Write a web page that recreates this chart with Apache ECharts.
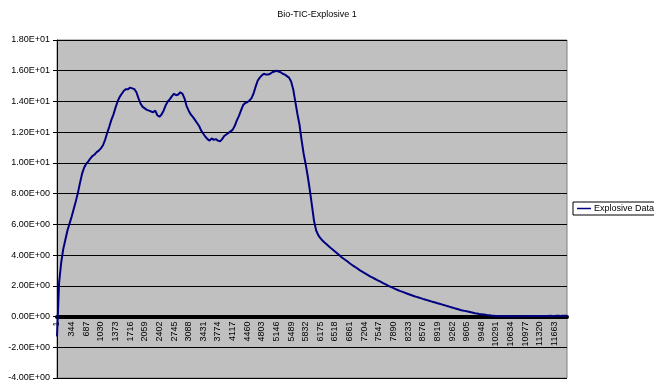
<!DOCTYPE html>
<html>
<head>
<meta charset="utf-8">
<title>Bio-TIC-Explosive 1</title>
<script src="https://cdn.jsdelivr.net/npm/echarts@6/dist/echarts.min.js"></script>
<style>
  html, body { margin: 0; padding: 0; background: #ffffff; }
  #chart { width: 654px; height: 381px; }
</style>
</head>
<body>
<div id="chart"></div>
<script>
// Scan numbers: one sample every 49 scans, starting at scan 1
const scanStart = 1;
const scanStep = 49;

// Total ion current for the explosive sample
const explosiveData = [
  -1.3, 2.2, 3.5, 4.4, 5.0, 5.6, 6.05, 6.5, 7.0, 7.5,
  8.05, 8.7, 9.3, 9.7, 9.95, 10.1, 10.3, 10.45, 10.55, 10.7,
  10.8, 10.95, 11.15, 11.5, 11.95, 12.35, 12.8, 13.15, 13.6, 14.0,
  14.3, 14.5, 14.7, 14.8, 14.8, 14.9, 14.85, 14.8, 14.6, 14.2,
  13.85, 13.65, 13.55, 13.45, 13.4, 13.35, 13.3, 13.4, 13.1, 13.0,
  13.15, 13.4, 13.75, 14.0, 14.15, 14.35, 14.5, 14.4, 14.45, 14.6,
  14.5, 14.2, 13.7, 13.4, 13.15, 13.0, 12.8, 12.6, 12.4, 12.1,
  11.9, 11.7, 11.55, 11.45, 11.6, 11.5, 11.55, 11.45, 11.4, 11.55,
  11.75, 11.85, 11.95, 12.05, 12.15, 12.4, 12.75, 13.05, 13.4, 13.75,
  13.9, 13.95, 14.05, 14.2, 14.5, 14.95, 15.35, 15.55, 15.7, 15.8,
  15.75, 15.75, 15.8, 15.9, 15.95, 16.0, 15.95, 15.9, 15.8, 15.75,
  15.65, 15.55, 15.3, 14.8, 14.0, 13.2, 12.5, 11.5, 10.6, 9.9,
  9.1, 8.2, 7.2, 6.2, 5.6, 5.3, 5.1, 4.95, 4.82, 4.7,
  4.58, 4.46, 4.35, 4.23, 4.12, 4.0, 3.88, 3.78, 3.68, 3.58,
  3.47, 3.37, 3.28, 3.19, 3.1, 3.0, 2.92, 2.84, 2.76, 2.68,
  2.6, 2.53, 2.46, 2.39, 2.32, 2.25, 2.18, 2.11, 2.04, 1.97,
  1.91, 1.85, 1.79, 1.73, 1.67, 1.62, 1.57, 1.52, 1.47, 1.42,
  1.37, 1.32, 1.28, 1.24, 1.2, 1.15, 1.11, 1.07, 1.03, 0.99,
  0.95, 0.91, 0.87, 0.83, 0.79, 0.75, 0.71, 0.67, 0.63, 0.59,
  0.55, 0.51, 0.47, 0.43, 0.4, 0.37, 0.34, 0.31, 0.28, 0.25,
  0.22, 0.2, 0.17, 0.15, 0.13, 0.11, 0.09, 0.08, 0.06, 0.05,
  0.04, 0.03, 0.03, 0.02, 0.03, 0.02, 0.02, 0.03, 0.02, 0.01,
  0.02, 0.03, 0.02, 0.02, 0.03, 0.04, 0.03, 0.02, 0.03, 0.03,
  0.04, 0.03, 0.03, 0.04, 0.03, 0.04, 0.05, 0.04, 0.04, 0.05,
  0.05, 0.04, 0.05, 0.06, 0.05
];

const scans = explosiveData.map((_, i) => String(scanStart + i * scanStep));

// Y axis range and tick spacing
const yMin = -4;
const yMax = 18;
const yStep = 2;

// Plot box in pixels
const plotTop = 40;
const plotBottom = 3;
const plotHeight = 381 - plotTop - plotBottom;
// Distance from the bottom of the plot up to the zero line
const zeroLift = plotHeight * (0 - yMin) / (yMax - yMin);

// Scientific notation with a two-digit exponent, e.g. 1.80E+01
function sci(v) {
  if (v === 0) return '0.00E+00';
  const sign = v < 0 ? '-' : '';
  let a = Math.abs(v);
  let e = Math.floor(Math.log10(a));
  let m = a / Math.pow(10, e);
  if (Number(m.toFixed(2)) >= 10) { m /= 10; e += 1; }
  const es = (e < 0 ? '-' : '+') + String(Math.abs(e)).padStart(2, '0');
  return sign + m.toFixed(2) + 'E' + es;
}

const chart = echarts.init(document.getElementById('chart'), null, { renderer: 'canvas' });
const font = 'Arial, "Liberation Sans", sans-serif';

chart.setOption({
  animation: false,
  backgroundColor: '#ffffff',
  title: {
    text: 'Bio-TIC-Explosive 1',
    left: 312,
    top: 5,
    textAlign: 'center',
    textStyle: { fontFamily: font, fontSize: 9, fontWeight: 'normal', color: '#000' }
  },
  legend: {
    left: 573,
    top: 202,
    orient: 'vertical',
    padding: [2, 20, 2, 4],
    itemGap: 0,
    itemWidth: 14,
    itemHeight: 1.5,
    icon: 'rect',
    backgroundColor: '#ffffff',
    borderColor: '#000000',
    borderWidth: 1,
    borderRadius: 0,
    textStyle: { fontFamily: font, fontSize: 9, color: '#000', padding: [0, 0, 0, -2] },
    data: ['Explosive Data']
  },
  grid: {
    left: 57,
    right: 87,
    top: plotTop,
    bottom: plotBottom,
    show: true,
    backgroundColor: '#c0c0c0',
    borderColor: '#808080',
    borderWidth: 1,
    containLabel: false,
    outerBoundsMode: 'none'
  },
  xAxis: {
    type: 'category',
    data: scans,
    boundaryGap: false,
    position: 'bottom',
    offset: -zeroLift,
    axisLine: { show: true, onZero: false, lineStyle: { color: '#000', width: 4 } },
    axisTick: { show: false },
    axisLabel: {
      show: true,
      interval: 6,
      rotate: 90,
      margin: 5,
      hideOverlap: false,
      fontFamily: font,
      fontSize: 9,
      color: '#000'
    },
    splitLine: { show: false }
  },
  yAxis: {
    type: 'value',
    min: yMin,
    max: yMax,
    interval: yStep,
    axisLine: { show: true, onZero: false, lineStyle: { color: '#000', width: 1 } },
    axisTick: { show: true, length: 4, lineStyle: { color: '#000' } },
    axisLabel: {
      formatter: sci,
      margin: 7,
      fontFamily: font,
      fontSize: 9,
      color: '#000'
    },
    splitLine: { show: true, lineStyle: { color: '#000', width: 1 } },
    z: 1
  },
  series: [{
    name: 'Explosive Data',
    type: 'line',
    data: explosiveData,
    symbol: 'none',
    smooth: false,
    clip: false,
    lineStyle: { color: '#000080', width: 2 },
    itemStyle: { color: '#000080' },
    z: 5
  }]
});
</script>
</body>
</html>
